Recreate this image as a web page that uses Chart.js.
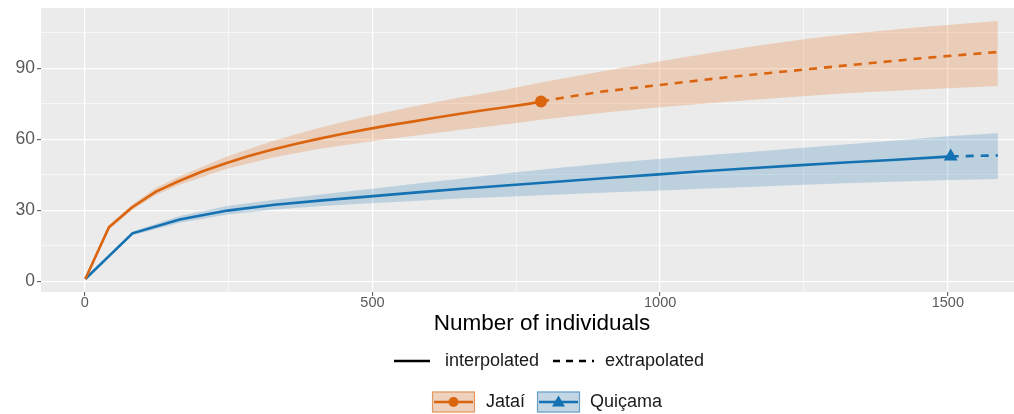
<!DOCTYPE html>
<html>
<head>
<meta charset="utf-8">
<script src="https://cdn.jsdelivr.net/npm/chart.js@4.4.1/dist/chart.umd.min.js"></script>
<style>
  html, body { margin: 0; padding: 0; background: #ffffff; overflow: hidden; }
  canvas { display: block; }
</style>
</head>
<body>
<canvas id="chart" width="1014" height="414"></canvas>
<script>
// Species accumulation by number of individuals: rarefied (solid) and extrapolated (dashed)

// axis ticks
const xTickValues = [0, 250, 500, 750, 1000, 1250, 1500];
const xTickLabels = ['0', '', '500', '', '1000', '', '1500'];
const yTickValues = [0, 15, 30, 45, 60, 75, 90, 105];
const yTickLabels = ['0', '', '30', '', '60', '', '90', ''];

// Jataí – interpolated
const jataiInterpX = [1, 42, 82, 123, 163, 204, 244, 285, 325, 366, 406, 447, 487, 528, 569, 609, 650, 690, 731, 771, 793];
const jataiInterpY = [1, 22.8, 31.2, 37.8, 42.3, 46.4, 49.8, 53.0, 55.6, 58.0, 60.2, 62.3, 64.1, 65.9, 67.5, 69.1, 70.7, 72.2, 73.6, 75.0, 76.0];
// Jataí – extrapolated
const jataiExtrapX = [793, 826, 900, 1000, 1100, 1180, 1260, 1330, 1400, 1460, 1530, 1587];
const jataiExtrapY = [76.0, 77.4, 80.2, 83.0, 85.8, 87.8, 89.7, 91.4, 93.0, 94.4, 95.8, 96.9];
// Jataí – confidence band
const jataiBandX = [1, 42, 82, 123, 163, 244, 325, 406, 487, 569, 650, 731, 793, 900, 1000, 1100, 1180, 1260, 1330, 1460, 1587];
const jataiBandLow = [1, 21.8, 30.2, 36.4, 40.6, 47.4, 52.2, 55.9, 58.8, 61.4, 63.9, 66.3, 68.3, 71.2, 73.6, 75.6, 77.0, 78.4, 79.6, 81.2, 82.5];
const jataiBandHigh = [1, 23.8, 32.4, 39.4, 44.2, 52.4, 59.2, 64.8, 69.6, 73.8, 77.6, 81.0, 84.0, 88.8, 93.0, 97.0, 100.0, 102.6, 104.6, 107.6, 110.0];

// Quiçama – interpolated
const quicamaInterpX = [1, 83, 165, 248, 330, 413, 496, 578, 661, 743, 826, 908, 991, 1073, 1156, 1238, 1321, 1403, 1486, 1505];
const quicamaInterpY = [1, 20.3, 26.1, 29.9, 32.4, 34.2, 35.9, 37.6, 39.2, 40.7, 42.2, 43.7, 45.1, 46.5, 47.8, 49.0, 50.2, 51.3, 52.5, 52.8];
// Quiçama – extrapolated
const quicamaExtrapX = [1505, 1545, 1587];
const quicamaExtrapY = [52.8, 53.0, 53.2];
// Quiçama – confidence band
const quicamaBandX = [1, 83, 165, 248, 330, 413, 496, 578, 661, 743, 826, 908, 991, 1073, 1156, 1238, 1321, 1403, 1505, 1587];
const quicamaBandLow = [1, 19.5, 24.8, 28.2, 30.4, 31.8, 33.0, 34.1, 35.1, 35.9, 36.7, 37.5, 38.3, 39.1, 39.9, 40.7, 41.5, 42.1, 42.8, 43.2];
const quicamaBandHigh = [1, 21.1, 27.6, 31.8, 34.5, 36.8, 39.0, 41.3, 43.6, 45.9, 48.0, 49.9, 51.6, 53.2, 54.7, 56.2, 57.8, 59.4, 61.4, 62.6];

// reference sample sizes (observed)
const jataiRef = [793, 76.0];
const quicamaRef = [1505, 52.8];

const ORANGE = '#DB640F';
const BLUE = '#1572B2';
const ORANGE_BAND = 'rgba(232, 114, 32, 0.25)';
const BLUE_BAND = 'rgba(21, 114, 178, 0.22)';
const FONT = '"Liberation Sans", Arial, Helvetica, sans-serif';

const pts = (xs, ys) => xs.map((x, i) => ({ x: x, y: ys[i] }));

const panelBackground = {
  id: 'panelBackground',
  beforeDraw(chart) {
    const { ctx, chartArea: a } = chart;
    ctx.save();
    ctx.fillStyle = '#EBEBEB';
    ctx.fillRect(a.left, a.top, a.right - a.left, a.bottom - a.top);
    ctx.restore();
  }
};

// axis title and the two-row legend underneath
const titleAndLegend = {
  id: 'titleAndLegend',
  afterDraw(chart) {
    const ctx = chart.ctx;
    ctx.save();
    ctx.fillStyle = '#000000';
    ctx.textBaseline = 'middle';
    ctx.textAlign = 'center';
    ctx.font = '22.5px ' + FONT;
    ctx.fillText('Number of individuals', 542, 324);

    // row 1: line types
    const y1 = 361;
    ctx.strokeStyle = '#000000';
    ctx.lineWidth = 2.6;
    ctx.beginPath(); ctx.moveTo(394, y1); ctx.lineTo(430, y1); ctx.stroke();
    ctx.setLineDash([7, 6]);
    ctx.beginPath(); ctx.moveTo(553, y1); ctx.lineTo(594, y1); ctx.stroke();
    ctx.setLineDash([]);
    ctx.font = '18px ' + FONT;
    ctx.textAlign = 'left';
    ctx.fillStyle = '#1a1a1a';
    ctx.fillText('interpolated', 445, y1);
    ctx.fillText('extrapolated', 605, y1);

    // row 2: assemblages
    const y2 = 402;
    const key = (x0, col, band, shape) => {
      const w = 43, h = 21;
      ctx.fillStyle = '#F2F2F2';
      ctx.fillRect(x0, y2 - h / 2, w, h);
      ctx.fillStyle = band;
      ctx.fillRect(x0, y2 - h / 2, w, h);
      ctx.strokeStyle = col;
      ctx.globalAlpha = 0.55;
      ctx.lineWidth = 1.2;
      ctx.strokeRect(x0 + 0.5, y2 - h / 2 + 0.5, w - 1, h - 1);
      ctx.globalAlpha = 1;
      ctx.lineWidth = 2.6;
      ctx.beginPath(); ctx.moveTo(x0 + 2, y2); ctx.lineTo(x0 + w - 2, y2); ctx.stroke();
      ctx.fillStyle = col;
      const cx = x0 + w / 2;
      ctx.beginPath();
      if (shape === 'circle') {
        ctx.arc(cx, y2, 5, 0, Math.PI * 2);
      } else {
        ctx.moveTo(cx, y2 - 6.5);
        ctx.lineTo(cx + 6.5, y2 + 4.5);
        ctx.lineTo(cx - 6.5, y2 + 4.5);
        ctx.closePath();
      }
      ctx.fill();
    };
    key(432, ORANGE, ORANGE_BAND, 'circle');
    key(537, BLUE, BLUE_BAND, 'triangle');
    ctx.fillStyle = '#1a1a1a';
    ctx.fillText('Jataí', 486, y2);
    ctx.fillText('Quiçama', 590, y2);
    ctx.restore();
  }
};

const isMajorX = v => v % 500 === 0;
const isMajorY = v => v % 30 === 0;

new Chart(document.getElementById('chart'), {
  type: 'line',
  data: {
    datasets: [
      // confidence bands
      { label: 'Jataí lower', data: pts(jataiBandX, jataiBandLow), borderWidth: 0, pointRadius: 0, fill: false, order: 5 },
      { label: 'Jataí band', data: pts(jataiBandX, jataiBandHigh), borderWidth: 0, pointRadius: 0, fill: 0, backgroundColor: ORANGE_BAND, order: 5 },
      { label: 'Quiçama lower', data: pts(quicamaBandX, quicamaBandLow), borderWidth: 0, pointRadius: 0, fill: false, order: 4 },
      { label: 'Quiçama band', data: pts(quicamaBandX, quicamaBandHigh), borderWidth: 0, pointRadius: 0, fill: 2, backgroundColor: BLUE_BAND, order: 4 },
      // curves
      { label: 'Jataí interpolated', data: pts(jataiInterpX, jataiInterpY), borderColor: ORANGE, borderWidth: 2.6, pointRadius: 0, fill: false, order: 2 },
      { label: 'Jataí extrapolated', data: pts(jataiExtrapX, jataiExtrapY), borderColor: ORANGE, borderWidth: 2.6, borderDash: [8, 7], pointRadius: 0, fill: false, order: 2 },
      { label: 'Quiçama interpolated', data: pts(quicamaInterpX, quicamaInterpY), borderColor: BLUE, borderWidth: 2.6, pointRadius: 0, fill: false, order: 2 },
      { label: 'Quiçama extrapolated', data: pts(quicamaExtrapX, quicamaExtrapY), borderColor: BLUE, borderWidth: 2.6, borderDash: [8, 7], pointRadius: 0, fill: false, order: 2 },
      // observed reference samples
      { label: 'Jataí observed', data: [{ x: jataiRef[0], y: jataiRef[1] }], showLine: false, pointStyle: 'circle', pointRadius: 6, backgroundColor: ORANGE, borderColor: ORANGE, borderWidth: 0, order: 1 },
      { label: 'Quiçama observed', data: [{ x: quicamaRef[0], y: quicamaRef[1] }], showLine: false, pointStyle: 'triangle', pointRadius: 8, backgroundColor: BLUE, borderColor: BLUE, borderWidth: 0, order: 1 }
    ]
  },
  options: {
    responsive: false,
    animation: false,
    devicePixelRatio: 1,
    layout: { autoPadding: false, padding: { top: 8, right: 0, bottom: 79, left: 0 } },
    plugins: {
      legend: { display: false },
      tooltip: { enabled: false },
      filler: { propagate: false }
    },
    elements: { line: { tension: 0 } },
    scales: {
      x: {
        type: 'linear',
        min: -76,
        max: 1615,
        afterBuildTicks: s => { s.ticks = xTickValues.map(v => ({ value: v })); },
        afterFit: s => { s.height = 43; s.paddingLeft = 0; s.paddingRight = 0; },
        border: { display: false },
        grid: {
          color: '#FFFFFF',
          lineWidth: c => (isMajorX(c.tick.value) ? 1.3 : 0.6),
          tickColor: c => (isMajorX(c.tick.value) ? '#4D4D4D' : 'rgba(0,0,0,0)'),
          tickLength: 4,
          tickWidth: 1
        },
        ticks: {
          padding: -2,
          maxRotation: 0,
          autoSkip: false,
          color: '#5A5A5A',
          font: { family: FONT, size: 14.5 },
          callback: (v) => { const i = xTickValues.indexOf(v); return i >= 0 ? xTickLabels[i] : ''; }
        }
      },
      y: {
        type: 'linear',
        min: -4.5,
        max: 115.5,
        afterBuildTicks: s => { s.ticks = yTickValues.map(v => ({ value: v })); },
        afterFit: s => { s.width = 41; s.paddingTop = 0; s.paddingBottom = 0; },
        border: { display: false },
        grid: {
          color: '#FFFFFF',
          lineWidth: c => (isMajorY(c.tick.value) ? 1.3 : 0.6),
          tickColor: c => (isMajorY(c.tick.value) ? '#4D4D4D' : 'rgba(0,0,0,0)'),
          tickLength: 4,
          tickWidth: 1
        },
        ticks: {
          padding: 2,
          autoSkip: false,
          color: '#5A5A5A',
          font: { family: FONT, size: 17.5 },
          callback: (v) => { const i = yTickValues.indexOf(v); return i >= 0 ? yTickLabels[i] : ''; }
        }
      }
    }
  },
  plugins: [panelBackground, titleAndLegend]
});
</script>
</body>
</html>
